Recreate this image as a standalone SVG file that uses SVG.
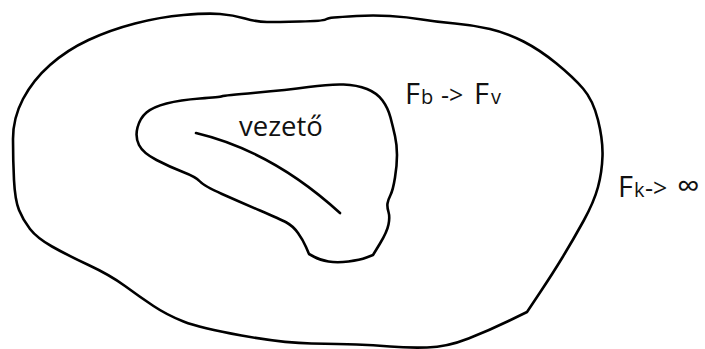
<svg xmlns="http://www.w3.org/2000/svg" width="705" height="349" viewBox="0 0 705 349">
<style>
.ln{fill:none;stroke:#000;stroke-width:2.6;stroke-linejoin:round;stroke-linecap:round}
.t{font-family:"Open Sans","DejaVu Sans",sans-serif;fill:#111}
</style>
<rect width="705" height="349" fill="#fff"/>
<g id="outer">
<path class="ln" d="M135,23.5 Q160,17 183.5,15 Q207,13 220,14 Q233,15 245,18.5 Q257,22 267,22 Q277,22 300,21.5 Q323,21 325.5,19.5 Q328,18 334,17.5 Q340,17 356.5,16 Q373,15 390,16 Q407,17 422,19.5 Q437,22 455,23.5 Q473,25 490,29 Q507,33 523.5,41.5 Q540,50 556.5,63.5 Q573,77 583,88.5 Q593,100 598,120 Q603,140 602.5,156 Q602,172 598,187 Q594,202 583.5,221 Q573,240 563,256.5 Q553,273 540,292.5 L527,312 L508.5,321 Q490,330 468.5,338.5 Q447,347 427,347.5 Q407,348 390,346.5 Q373,345 356.5,344.5 Q340,344 311.5,343.5 Q283,343 241.5,335.5 Q200,328 183.5,321.5 Q167,315 153.5,306 Q140,297 125,286 Q110,275 88.5,265 Q67,255 52,246.5 Q37,238 30,229 Q23,220 19,210 Q15,200 14,180 Q13,160 13,139 Q13,118 23,99 Q33,80 50,65 Q67,50 88.5,40 Q110,30 135,23.5 Z"/>
</g>
<g id="inner">
<path class="ln" d="M139,145 Q135,137 137.5,127.5 Q140,118 146.5,112.5 Q153,107 166.5,103.5 Q180,100 200,98.5 Q220,97 222,96.25 Q224,95.5 255.5,92.75 Q287,90 308.5,87 Q330,84 343.5,84.5 Q357,85 367,89 Q377,93 382.5,100.5 Q388,108 390.5,117.5 Q393,127 395,136 Q397,145 397,155 Q397,165 395,177.5 Q393,190 390.5,195 Q388,200 387.5,203.5 Q387,207 388.5,212 Q390,217 388.5,224.5 Q387,232 380,243.5 L373,255 L366.5,257.5 Q360,260 348.5,261.5 Q337,263 328.5,261.5 Q320,260 314.5,257 L309,254 L306,247 Q303,240 298,233 Q293,226 286.5,222.5 Q280,219 260,210.5 Q240,202 222,194 Q204,186 200,181.5 Q196,177 183,172 Q170,167 156.5,160 Q143,153 139,145 Z"/>
<path class="ln" d="M196,133 Q272,151 340,213"/>
<text class="t" x="239" y="136" font-size="27.5">vezető</text>
</g>
<g id="label-fb">
<text class="t" y="104"><tspan x="405" font-size="29">F</tspan><tspan x="421" font-size="20">b</tspan><tspan x="441" font-size="25">-&gt;</tspan><tspan x="474" font-size="29">F</tspan><tspan x="491" font-size="20">v</tspan></text>
</g>
<g id="label-fk">
<text class="t" y="197"><tspan x="618" font-size="29">F</tspan><tspan x="634" font-size="20">k</tspan><tspan x="645" font-size="25">-&gt;</tspan><tspan x="677" font-size="32">∞</tspan></text>
</g>
</svg>
